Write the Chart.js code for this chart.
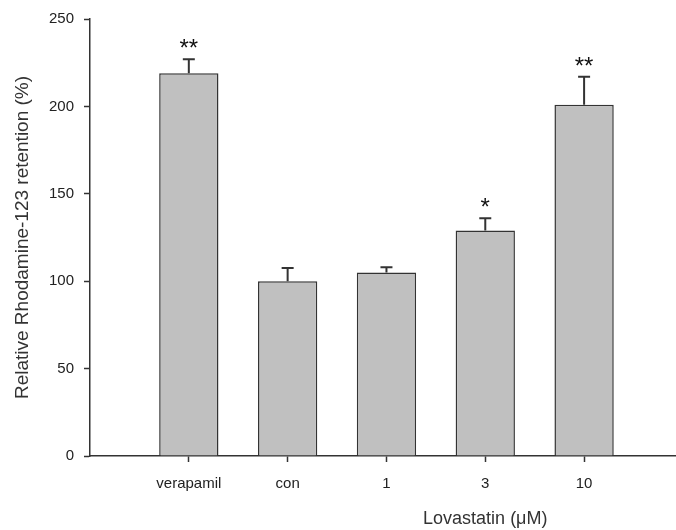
<!DOCTYPE html>
<html>
<head>
<meta charset="utf-8">
<script src="https://cdn.jsdelivr.net/npm/chart.js@4.4.1/dist/chart.umd.min.js"></script>
<style>
  html, body { margin: 0; padding: 0; background: #fff; }
  #wrap { width: 676px; height: 530px; position: relative; }
</style>
</head>
<body>
<div id="wrap"><canvas id="rhoChart"></canvas></div>
<script>
// data
const categories = ['verapamil', 'con', '1', '3', '10'];
const retention = [219, 100, 105, 129, 201];
const errUp = [8, 7.5, 3, 7, 16];
const signif = ['**', '', '', '*', '**'];
const yTicks = [0, 50, 100, 150, 200, 250];

const axisColor = '#333';
const fontFam = '"Liberation Sans", Arial, sans-serif';

const barData = categories.map((c, i) => ({ x: i, y: retention[i] }));

// upward error bars + significance stars
const errorBars = {
    id: 'errorBars',
    afterDatasetsDraw(chart) {
        const { ctx, scales: { x, y } } = chart;
        ctx.save();
        ctx.strokeStyle = axisColor;
        ctx.lineWidth = 2;
        categories.forEach((c, i) => {
            const px = x.getPixelForValue(i);
            const top = y.getPixelForValue(retention[i]);
            const hi = y.getPixelForValue(retention[i] + errUp[i]);
            ctx.beginPath();
            ctx.moveTo(px, top);
            ctx.lineTo(px, hi);
            ctx.moveTo(px - 6, hi);
            ctx.lineTo(px + 6, hi);
            ctx.stroke();
            if (signif[i]) {
                ctx.fillStyle = '#111';
                ctx.font = '24px ' + fontFam;
                ctx.textAlign = 'center';
                ctx.textBaseline = 'alphabetic';
                ctx.fillText(signif[i], px, hi - 3);
            }
        });
        ctx.restore();
    }
};

// axis titles
const axisTitles = {
    id: 'axisTitles',
    afterDraw(chart) {
        const { ctx, chartArea, scales: { x } } = chart;
        ctx.save();
        ctx.fillStyle = '#333';
        ctx.textAlign = 'center';
        ctx.textBaseline = 'middle';
        ctx.font = '18px ' + fontFam;
        ctx.fillText('Lovastatin (\u03BCM)', x.getPixelForValue(3), 519);
        ctx.translate(23, (chartArea.top + chartArea.bottom) / 2);
        ctx.rotate(-Math.PI / 2);
        ctx.font = '19px ' + fontFam;
        ctx.fillText('Relative Rhodamine-123 retention (%)', 0, 0);
        ctx.restore();
    }
};

new Chart(document.getElementById('rhoChart'), {
    type: 'bar',
    data: {
        datasets: [{
            data: barData,
            backgroundColor: '#c0c0c0',
            borderColor: axisColor,
            borderWidth: 1.5,
            borderSkipped: 'start',
            barPercentage: 0.6,
            categoryPercentage: 1
        }]
    },
    options: {
        responsive: true,
        maintainAspectRatio: false,
        animation: false,
        layout: { padding: { top: 19, right: 0, bottom: 0, left: 0 } },
        plugins: { legend: { display: false }, tooltip: { enabled: false } },
        scales: {
            x: {
                type: 'linear',
                min: -1,
                max: 4.93,
                offset: false,
                afterBuildTicks: scale => {
                    scale.ticks = categories.map((c, i) => ({ value: i }));
                },
                afterFit: scale => { scale.height = 74; },
                border: { color: axisColor, width: 1.5 },
                grid: { offset: false, drawOnChartArea: false, tickLength: 6, tickColor: axisColor, tickWidth: 1.5 },
                ticks: {
                    color: '#222',
                    padding: 13,
                    maxRotation: 0,
                    font: { family: fontFam, size: 15 },
                    callback: v => categories[v]
                }
            },
            y: {
                min: 0,
                max: 250,
                afterBuildTicks: scale => {
                    scale.ticks = yTicks.map(v => ({ value: v }));
                },
                afterFit: scale => { scale.width = 90; },
                border: { color: axisColor, width: 1.5 },
                grid: { drawOnChartArea: false, tickLength: 6, tickColor: axisColor, tickWidth: 1.5 },
                ticks: {
                    color: '#222',
                    padding: 10,
                    font: { family: fontFam, size: 15 }
                }
            }
        }
    },
    plugins: [errorBars, axisTitles]
});
</script>
</body>
</html>
